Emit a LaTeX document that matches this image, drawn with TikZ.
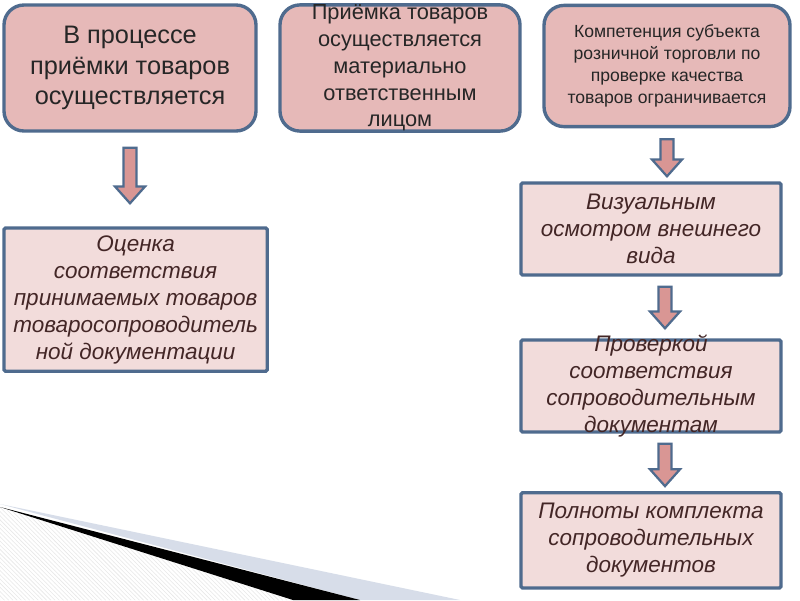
\documentclass[tikz,border=0pt]{standalone}
\usepackage{fontspec}
\setmainfont{Liberation Sans}
\usepackage{xcolor}
\definecolor{boxTop}{HTML}{E6B9B8}
\definecolor{boxLow}{HTML}{F2DCDB}
\definecolor{boxLine}{HTML}{4F6B8E}
\definecolor{arrowFill}{HTML}{D99694}
\definecolor{textDark}{HTML}{262626}
\definecolor{textMaroon}{HTML}{432626}
\definecolor{bandBlue}{HTML}{D7DDE9}
\usetikzlibrary{calc,patterns}

\begin{document}
\begin{tikzpicture}[
  topbox/.style={rounded corners=0.5cm, draw=boxLine, line width=2.4pt, fill=boxTop, align=center, text=textDark, inner xsep=0pt},
  lowbox/.style={rounded corners=1pt, draw=boxLine, line width=2.4pt, fill=boxLow, align=center, text=textMaroon, font=\fontsize{16}{19.2}\selectfont\itshape, inner xsep=0pt},
  fatarrow/.style={fill=arrowFill, draw=boxLine, line width=1.6pt, line join=miter,
    to path={let \p1=(\tikztostart), \p2=(\tikztotarget) in
      (\x1-0.16cm,\y1) -- (\x1+0.16cm,\y1) -- (\x1+0.16cm,\y2+0.42cm) -- (\x1+0.375cm,\y2+0.42cm)
      -- (\x1,\y2) -- (\x1-0.375cm,\y2+0.42cm) -- (\x1-0.16cm,\y2+0.42cm) -- cycle}}]
  \useasboundingbox[fill=white] (0,0) rectangle (20,-15);
  % slide decoration, bottom left
  \fill[bandBlue] (0,-12.6) -- (11.5,-15) -- (9,-15) -- cycle;
  \fill[pattern=north west lines, pattern color=gray!18] (0,-12.675) -- (7.325,-15) -- (0,-15) -- cycle;
  \fill[black] (0,-12.675) -- (9,-15) -- (7.325,-15) -- cycle;

  \node[topbox, minimum width=6.3cm, minimum height=3.15cm, font=\fontsize{18}{21.5}\selectfont] (b1) at (3.25,-1.7)
    {В процессе\\приёмки товаров\\осуществляется};
  \node[topbox, minimum width=6.0cm, minimum height=3.15cm, inner ysep=0pt, font=\fontsize{15.5}{19}\selectfont] (b2) at (10.0,-1.7)
    {Приёмка товаров\\осуществляется\\материально\\ответственным\\лицом};
  \node[topbox, minimum width=6.15cm, minimum height=3.03cm, font=\fontsize{12.5}{15.5}\selectfont] (b3) at (16.675,-1.65)
    {Компетенция субъекта\\розничной торговли по\\проверке качества\\товаров ограничивается};

  \node[lowbox, minimum width=6.58cm, minimum height=3.58cm] (b4) at (3.39,-7.49)
    {Оценка\\соответствия\\принимаемых товаров\\товаросопроводитель\\ной документации};
  \node[lowbox, minimum width=6.5cm, minimum height=2.3cm] (b5) at (16.275,-5.725)
    {Визуальным\\осмотром внешнего\\вида};
  \node[lowbox, minimum width=6.5cm, minimum height=2.3cm, inner ysep=-0.15cm] (b6) at (16.275,-9.65)
    {Проверкой\\соответствия\\сопроводительным\\документам};
  \node[lowbox, minimum width=6.5cm, minimum height=2.38cm] (b7) at (16.275,-13.51)
    {Полноты комплекта\\сопроводительных\\документов};

  \draw[fatarrow] ([yshift=-0.375cm]b1.south) to ([yshift=0.575cm]b4.north);
  \draw[fatarrow] ([yshift=-0.275cm]b3.south) to ([xshift=0.35cm,yshift=0.125cm]b5.north);
  \draw[fatarrow] ([xshift=0.35cm,yshift=-0.25cm]b5.south) to ([xshift=0.35cm,yshift=0.25cm]b6.north);
  \draw[fatarrow] ([xshift=0.35cm,yshift=-0.25cm]b6.south) to ([xshift=0.35cm,yshift=0.125cm]b7.north);
\end{tikzpicture}
\end{document}
